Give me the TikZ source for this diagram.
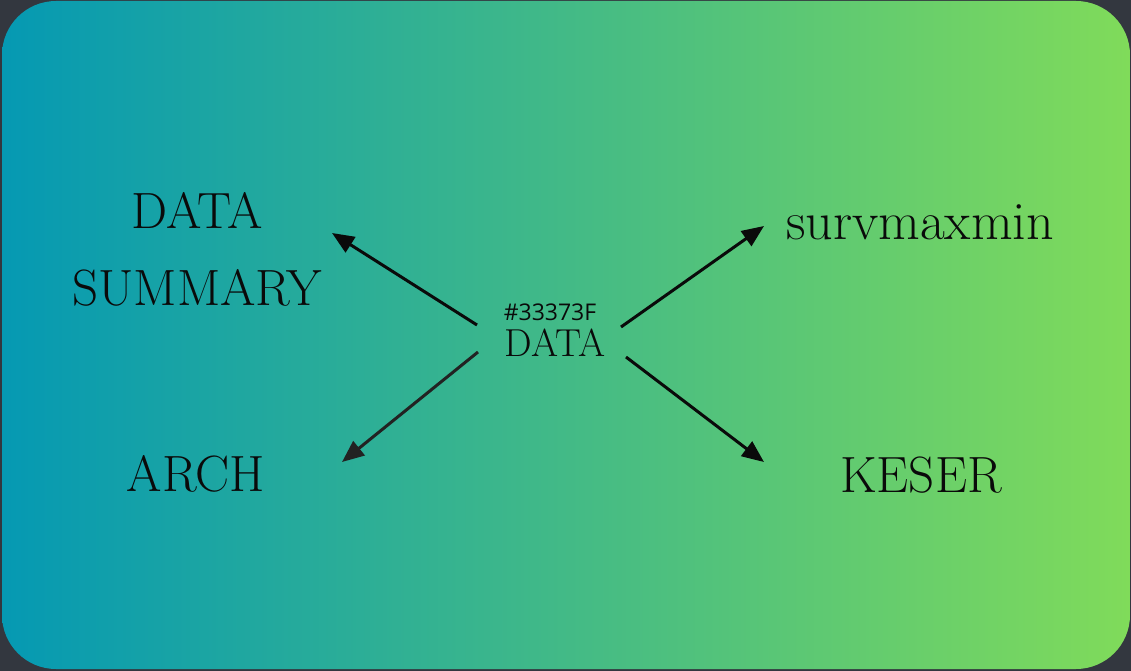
\documentclass[tikz,border=0pt]{standalone}
\usepackage{fontspec}
\newfontfamily\hexfont{Open Sans}
\usetikzlibrary{arrows.meta}
\definecolor{bgdark}{HTML}{33373F}
\definecolor{gleft}{HTML}{0599B3}
\definecolor{gright}{HTML}{80DB5A}
\definecolor{ink}{HTML}{0A0A0A}
\definecolor{ink2}{HTML}{222222}
\tikzset{
  lbl/.style={text=ink,inner sep=0pt,font=\fontsize{51}{77}\selectfont},
  conn/.style={line width=3pt,draw=ink,-{Triangle[length=22pt,width=18pt]}},
}
\begin{document}
\begin{tikzpicture}[x=1pt,y=-1pt]
\useasboundingbox (0,0) rectangle (1131,671);
\fill[bgdark] (0,0) rectangle (1131,671);
\shade[left color=gleft,right color=gright,rounded corners=54pt] (2,1) rectangle (1130,669);
\node[lbl,align=center] (summary) at (197,249) {DATA\\SUMMARY};
\node[lbl] (arch) at (196,474) {ARCH};
\node[lbl,font=\fontsize{54}{60}\selectfont] (surv) at (920,222) {survmaxmin};
\node[lbl] (keser) at (921,475) {KESER};
\node[text=ink,inner sep=0pt,font=\hexfont\fontsize{23}{26}\selectfont] (hex) at (550,312) {\#33373F};
\node[lbl,font=\fontsize{39}{44}\selectfont] (data) at (555,343) {DATA};
\coordinate (a1) at (477,325);
\coordinate (b1) at (332,233);
\coordinate (a2) at (478,352);
\coordinate (b2) at (342,462);
\coordinate (a3) at (621,327);
\coordinate (b3) at (764,226);
\coordinate (a4) at (626,357);
\coordinate (b4) at (764,462);
\draw[conn] (a1) -- (b1);
\draw[conn,draw=ink2] (a2) -- (b2);
\draw[conn] (a3) -- (b3);
\draw[conn] (a4) -- (b4);
\end{tikzpicture}
\end{document}
